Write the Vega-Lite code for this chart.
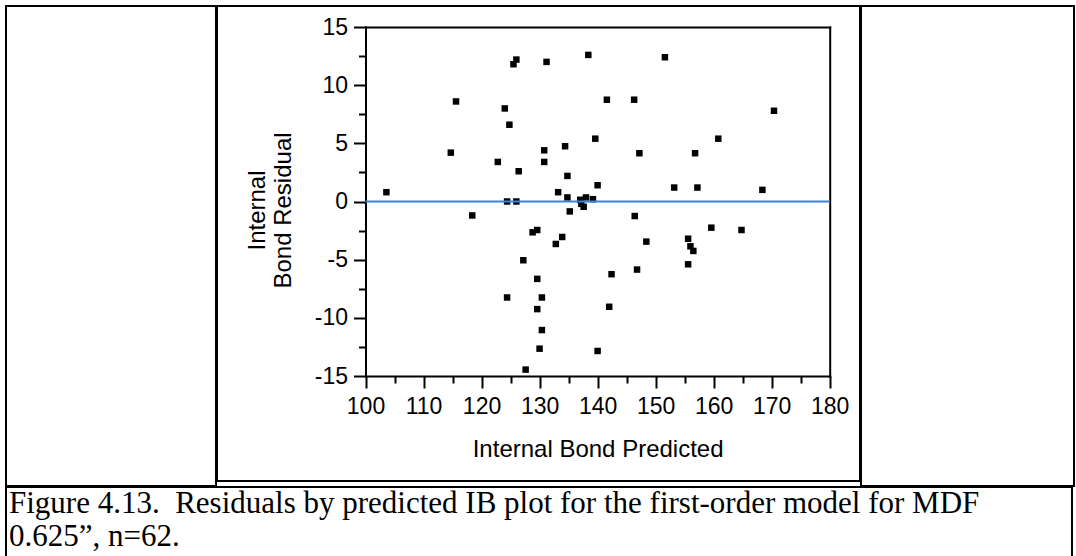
{
  "$schema": "https://vega.github.io/schema/vega-lite/v6.json",
  "background": "white",
  "padding": {"left": 2, "top": 2, "right": 0, "bottom": -3},
  "spacing": -4,
  "datasets": {
    "residuals": [
      {"predicted": 103.6, "residual": 0.8},
      {"predicted": 114.7, "residual": 4.2},
      {"predicted": 115.6, "residual": 8.6},
      {"predicted": 118.4, "residual": -1.2},
      {"predicted": 122.8, "residual": 3.4},
      {"predicted": 124.0, "residual": 8.0},
      {"predicted": 124.4, "residual": 0.0},
      {"predicted": 124.4, "residual": -8.25},
      {"predicted": 124.8, "residual": 6.6},
      {"predicted": 125.5, "residual": 11.8},
      {"predicted": 126.0, "residual": 12.2},
      {"predicted": 126.0, "residual": 0.0},
      {"predicted": 126.4, "residual": 2.6},
      {"predicted": 127.2, "residual": -5.05},
      {"predicted": 127.6, "residual": -14.45},
      {"predicted": 128.8, "residual": -2.65},
      {"predicted": 129.6, "residual": -2.45},
      {"predicted": 129.6, "residual": -6.65},
      {"predicted": 129.6, "residual": -9.25},
      {"predicted": 130.0, "residual": -12.65},
      {"predicted": 130.4, "residual": -8.25},
      {"predicted": 130.4, "residual": -11.05},
      {"predicted": 130.8, "residual": 4.4},
      {"predicted": 130.8, "residual": 3.4},
      {"predicted": 131.2, "residual": 12.0},
      {"predicted": 132.8, "residual": -3.65},
      {"predicted": 133.2, "residual": 0.8},
      {"predicted": 133.9, "residual": -3.05},
      {"predicted": 134.4, "residual": 4.75},
      {"predicted": 134.8, "residual": 2.2},
      {"predicted": 134.8, "residual": 0.35},
      {"predicted": 135.2, "residual": -0.85},
      {"predicted": 137.0, "residual": 0.15},
      {"predicted": 137.2, "residual": -0.2},
      {"predicted": 137.6, "residual": -0.45},
      {"predicted": 138.0, "residual": 0.35},
      {"predicted": 138.4, "residual": 12.6},
      {"predicted": 139.2, "residual": 0.2},
      {"predicted": 139.6, "residual": 5.4},
      {"predicted": 140.0, "residual": 1.4},
      {"predicted": 140.0, "residual": -12.85},
      {"predicted": 141.6, "residual": 8.75},
      {"predicted": 142.0, "residual": -9.05},
      {"predicted": 142.4, "residual": -6.25},
      {"predicted": 146.3, "residual": 8.75},
      {"predicted": 146.4, "residual": -1.25},
      {"predicted": 146.8, "residual": -5.85},
      {"predicted": 147.2, "residual": 4.15},
      {"predicted": 148.4, "residual": -3.45},
      {"predicted": 151.6, "residual": 12.4},
      {"predicted": 153.2, "residual": 1.2},
      {"predicted": 155.6, "residual": -3.2},
      {"predicted": 155.6, "residual": -5.4},
      {"predicted": 156.0, "residual": -3.85},
      {"predicted": 156.5, "residual": -4.25},
      {"predicted": 156.8, "residual": 4.15},
      {"predicted": 157.2, "residual": 1.2},
      {"predicted": 159.6, "residual": -2.25},
      {"predicted": 160.8, "residual": 5.4},
      {"predicted": 164.8, "residual": -2.45},
      {"predicted": 168.4, "residual": 1.0},
      {"predicted": 170.4, "residual": 7.8}
    ]
  },
  "vconcat": [
    {
      "spacing": -4,
      "hconcat": [
        {
          "width": 210,
          "height": 480,
          "view": {"stroke": "black", "strokeWidth": 2},
          "data": {"values": [{}]},
          "mark": {"type": "point", "opacity": 0},
          "encoding": {
            "x": {"datum": 0, "type": "quantitative", "axis": null},
            "y": {"datum": 0, "type": "quantitative", "axis": null}
          }
        },
        {
          "width": 643,
          "height": 475,
          "data": {"name": "residuals"},
          "resolve": {"axis": {"x": "independent", "y": "independent"}},
          "layer": [
            {
              "mark": {"type": "square", "filled": true, "color": "black", "size": 42, "opacity": 1},
              "encoding": {
                "x": {
                  "field": "predicted",
                  "type": "quantitative",
                  "scale": {"domain": [100, 180], "range": [148.5, 612.7], "nice": false, "zero": false},
                  "axis": {
                    "orient": "bottom",
                    "offset": -105,
                    "values": [100, 110, 120, 130, 140, 150, 160, 170, 180],
                    "tickSize": 12,
                    "labelPadding": 7,
                    "labelExpr": "datum.value + ''",
                    "title": "Internal Bond Predicted",
                    "titlePadding": 19
                  }
                },
                "y": {
                  "field": "residual",
                  "type": "quantitative",
                  "scale": {"domain": [-15, 15], "range": [370, 21], "nice": false, "zero": false},
                  "axis": {
                    "orient": "left",
                    "offset": -148.5,
                    "values": [-15, -10, -5, 0, 5, 10, 15],
                    "tickSize": 12,
                    "labelPadding": 6,
                    "labelExpr": "datum.value + ''",
                    "title": ["Internal", "Bond Residual"],
                    "titleLineHeight": 26,
                    "titlePadding": 19,
                    "titleY": 204
                  }
                }
              }
            },
            {
              "mark": {"type": "point", "opacity": 0},
              "encoding": {
                "x": {
                  "field": "predicted",
                  "type": "quantitative",
                  "axis": {
                    "orient": "bottom",
                    "offset": -105,
                    "values": [105, 115, 125, 135, 145, 155, 165, 175],
                    "tickSize": 7,
                    "labels": false,
                    "domain": false,
                    "title": null
                  }
                },
                "y": {
                  "field": "residual",
                  "type": "quantitative",
                  "axis": {
                    "orient": "left",
                    "offset": -148.5,
                    "values": [-12.5, -7.5, -2.5, 2.5, 7.5, 12.5],
                    "tickSize": 7,
                    "labels": false,
                    "domain": false,
                    "title": null
                  }
                }
              }
            },
            {
              "mark": {"type": "point", "opacity": 0},
              "encoding": {
                "x": {
                  "field": "predicted",
                  "type": "quantitative",
                  "axis": {"orient": "top", "offset": -21, "ticks": false, "labels": false, "domain": true, "title": null}
                },
                "y": {
                  "field": "residual",
                  "type": "quantitative",
                  "axis": {"orient": "right", "offset": -30.3, "ticks": false, "labels": false, "domain": true, "title": null}
                }
              }
            },
            {
              "data": {"values": [{}]},
              "mark": {"type": "rule", "color": "#3c82e6", "strokeWidth": 2},
              "encoding": {
                "x": {"datum": 100, "type": "quantitative", "axis": null},
                "x2": {"datum": 180},
                "y": {"datum": 0, "type": "quantitative", "axis": null}
              }
            }
          ]
        },
        {
          "width": 213,
          "height": 480,
          "view": {"stroke": "black", "strokeWidth": 2},
          "data": {"values": [{}]},
          "mark": {"type": "point", "opacity": 0},
          "encoding": {
            "x": {"datum": 0, "type": "quantitative", "axis": null},
            "y": {"datum": 0, "type": "quantitative", "axis": null}
          }
        }
      ]
    },
    {
      "width": 1066,
      "height": 75,
      "view": {"stroke": "black", "strokeWidth": 2},
      "data": {"values": [{}]},
      "mark": {"type": "point", "opacity": 0},
      "encoding": {
        "x": {"datum": 0, "type": "quantitative", "axis": null},
        "y": {"datum": 0, "type": "quantitative", "axis": null}
      },
      "title": {
        "text": ["Figure 4.13.\u00a0 Residuals by predicted IB plot for the first-order model for MDF", "0.625\u201d, n=62."],
        "orient": "top",
        "anchor": "start",
        "frame": "group",
        "baseline": "top",
        "offset": -69,
        "dx": 3,
        "font": "Liberation Serif",
        "fontSize": 31,
        "fontWeight": "normal",
        "lineHeight": 33,
        "color": "black"
      }
    }
  ],
  "config": {
    "view": {"stroke": "black", "strokeWidth": 2},
    "font": "Liberation Sans",
    "axis": {
      "grid": false,
      "domainColor": "black",
      "domainWidth": 2,
      "domainCap": "square",
      "tickColor": "black",
      "tickWidth": 2,
      "labelColor": "black",
      "labelFont": "Liberation Sans",
      "labelFontSize": 23,
      "labelOverlap": false,
      "labelBound": false,
      "labelFlush": false,
      "titleColor": "black",
      "titleFont": "Liberation Sans",
      "titleFontSize": 24,
      "titleFontWeight": "normal"
    }
  }
}
